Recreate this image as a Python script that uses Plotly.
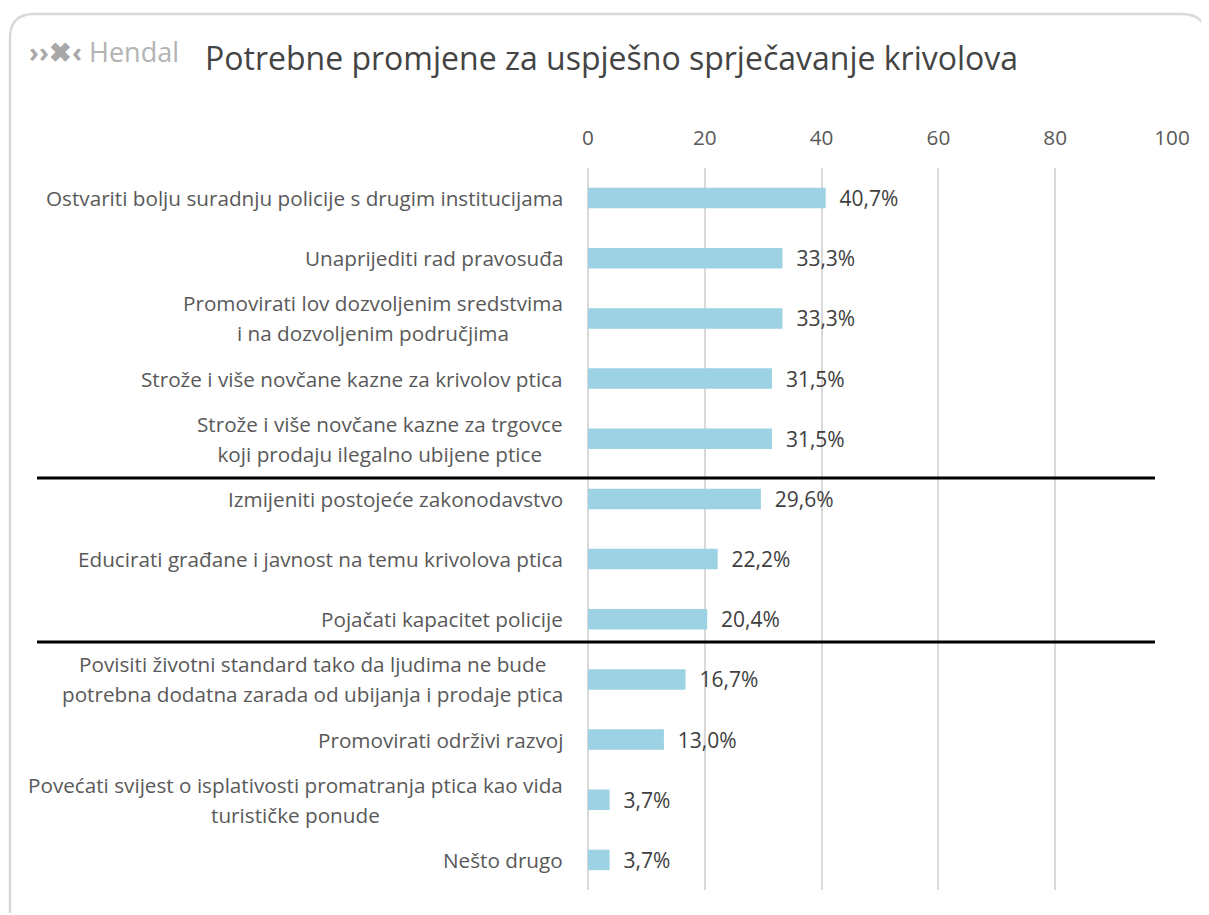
import plotly.graph_objects as go

categories = [
    "Ostvariti bolju suradnju policije s drugim institucijama",
    "Unaprijediti rad pravosuđa",
    "Promovirati lov dozvoljenim sredstvima\ni na dozvoljenim područjima",
    "Strože i više novčane kazne za krivolov ptica",
    "Strože i više novčane kazne za trgovce\nkoji prodaju ilegalno ubijene ptice",
    "Izmijeniti postojeće zakonodavstvo",
    "Educirati građane i javnost na temu krivolova ptica",
    "Pojačati kapacitet policije",
    "Povisiti životni standard tako da ljudima ne bude\npotrebna dodatna zarada od ubijanja i prodaje ptica",
    "Promovirati održivi razvoj",
    "Povećati svijest o isplativosti promatranja ptica kao vida\nturističke ponude",
    "Nešto drugo",
]
values = [40.7, 33.3, 33.3, 31.5, 31.5, 29.6, 22.2, 20.4, 16.7, 13.0, 3.7, 3.7]
x_ticks = [0, 20, 40, 60, 80, 100]
title = "Potrebne promjene za uspješno sprječavanje krivolova"

OFF = 8  # default page body margin
W, H = 1209, 915
L, R, T, B = 588, 1172, 168, 890
FONT = "Open Sans"
GREY = "#595959"
FS = 20.7

def px(x):
    return (x - L) / (R - L)

def py(y):
    return (B - y) / (B - T)

ids = list(range(len(categories)))
labels = [f"{v:.1f}".replace(".", ",") + "%" for v in values]

fig = go.Figure(go.Bar(
    x=values, y=ids, orientation="h",
    marker=dict(color="#9DD1E4", line=dict(width=0)),
    width=0.34,
    text=["  " + t for t in labels], textposition="outside",
    constraintext="none",
    textfont=dict(family=FONT, size=21, color="#404040"),
    cliponaxis=False,
))

annotations = []
for i, c in enumerate(categories):
    lines = c.split("\n")
    txt = "<br>".join(f"<span style='font-size:{FS}px'>{ln}</span>" for ln in lines)
    annotations.append(dict(
        x=px(565), xref="paper", y=i, yref="y", text=txt, showarrow=False,
        xanchor="right", yanchor="middle", align="center",
        font=dict(family=FONT, size=23 if len(lines) > 1 else FS, color=GREY),
    ))

annotations.append(dict(
    x=px(203), xref="paper", y=py(57), yref="paper", text=title, showarrow=False,
    xanchor="left", yanchor="middle", font=dict(family=FONT, size=32, color="#444444"),
))
annotations.append(dict(
    x=px(27), xref="paper", y=py(52), yref="paper",
    text="<b>››✖‹</b>", showarrow=False,
    xanchor="left", yanchor="middle", font=dict(family=FONT, size=27, color="#a8a8a8"),
))
annotations.append(dict(
    x=px(87), xref="paper", y=py(51), yref="paper",
    text="Hendal", showarrow=False,
    xanchor="left", yanchor="middle", font=dict(family=FONT, size=27, color="#b3b3b3"),
))

shapes = []
# rounded frame
l, t, r, b, rad = 10, 14, 1206, 913, 24
path = (f"M {px(l)},{py(b)} L {px(l)},{py(t + rad)} "
        f"Q {px(l)},{py(t)} {px(l + rad)},{py(t)} "
        f"L {px(r - rad)},{py(t)} Q {px(r)},{py(t)} {px(r)},{py(t + rad)} "
        f"L {px(r)},{py(b)}")
shapes.append(dict(type="path", path=path, xref="paper", yref="paper",
                   line=dict(color="#d9d9d9", width=2.5), layer="below"))
for yy in [478, 642]:
    shapes.append(dict(type="line", xref="paper", yref="paper",
                       x0=px(37), x1=px(1155), y0=py(yy), y1=py(yy),
                       line=dict(color="black", width=3)))

fig.update_layout(
    width=W - OFF, height=H - OFF,
    margin=dict(l=L - OFF, r=W - R, t=T - OFF, b=H - B),
    plot_bgcolor="white", paper_bgcolor="white",
    showlegend=False,
    xaxis=dict(range=[0, 100], side="top", tickvals=x_ticks,
               showgrid=True, gridcolor="#d9d9d9", gridwidth=2,
               zeroline=True, zerolinecolor="#d9d9d9", zerolinewidth=2,
               showline=False,
               tickfont=dict(family=FONT, size=FS, color=GREY),
               ticklabelstandoff=18, fixedrange=True),
    yaxis=dict(range=[len(categories) - 0.5, -0.5], showticklabels=False,
               showgrid=False, zeroline=False, showline=False,
               fixedrange=True),
    annotations=annotations,
    shapes=shapes,
)

fig.write_html("out.html")
